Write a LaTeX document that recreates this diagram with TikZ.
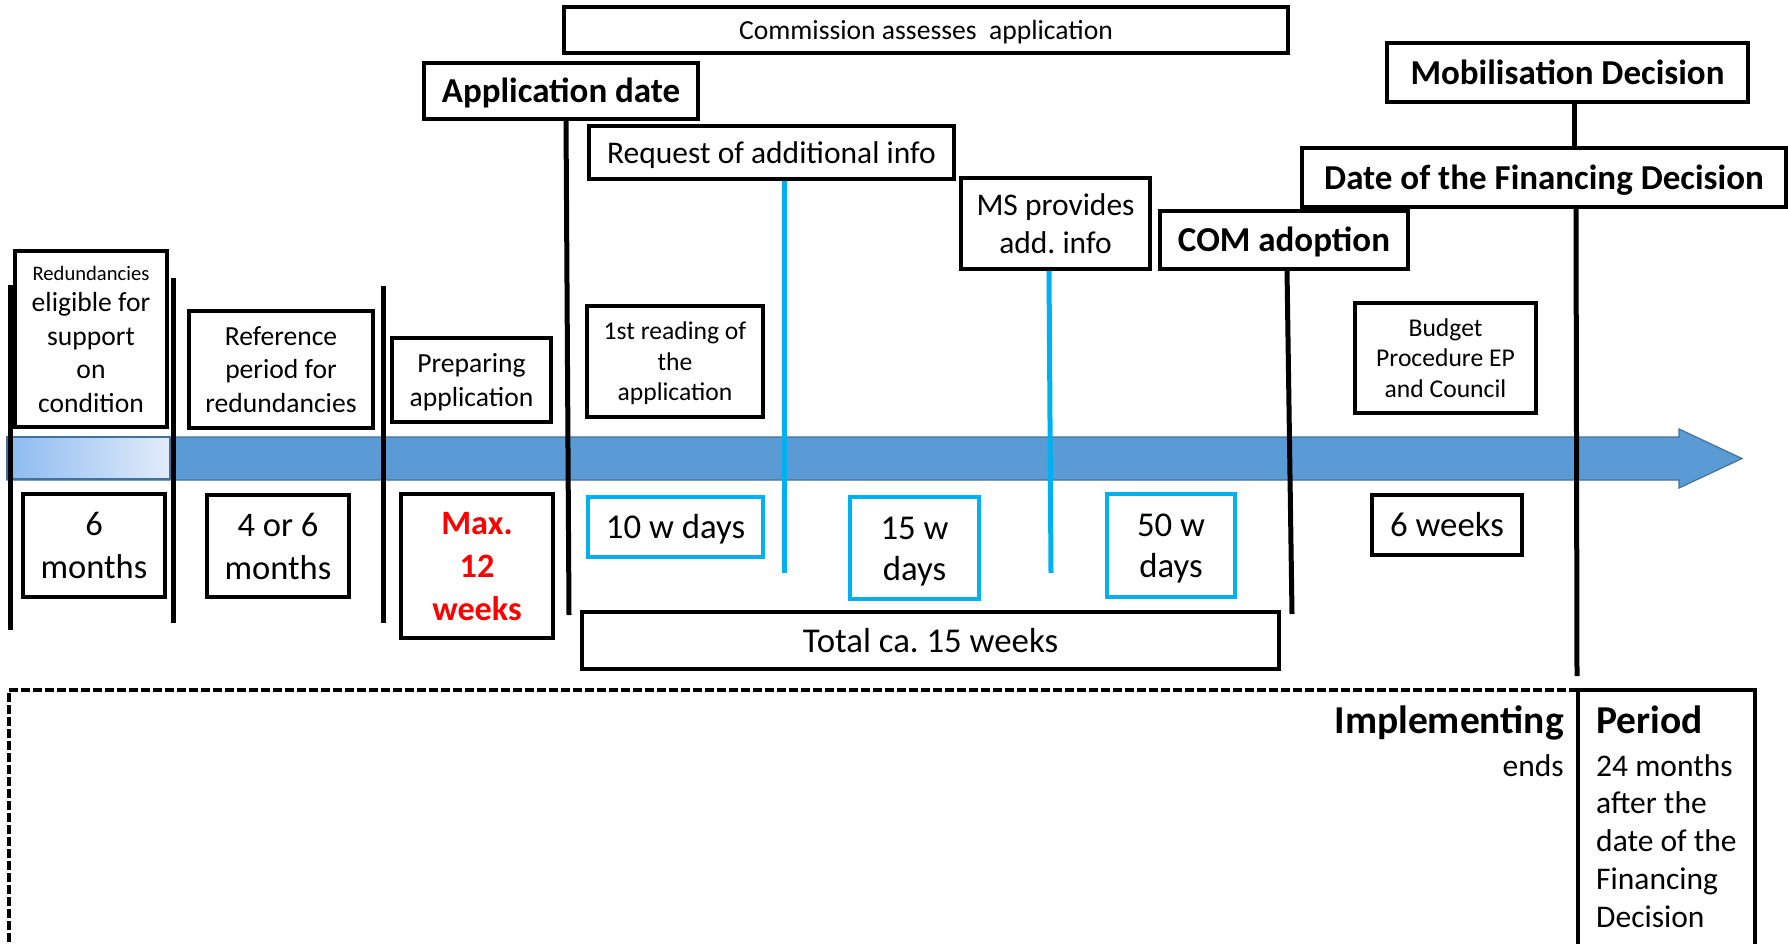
\documentclass[tikz,border=0pt]{standalone}
\usepackage{fontspec}
\setmainfont{Carlito}
\frenchspacing
\newcommand\setfs[2]{\fontsize{#1}{#2}\selectfont}
% fixed line box: font ascent above the first line, descent below the last
\newcommand\tp{\rule{0pt}{0.952em}}
\newcommand\bt{\rule[-0.269em]{0pt}{0pt}}
\definecolor{bandblue}{RGB}{91,155,213}
\definecolor{bandedge}{RGB}{65,113,156}
\definecolor{lineblue}{RGB}{0,176,240}
\definecolor{gradleft}{RGB}{140,186,240}
\definecolor{gradright}{RGB}{226,236,250}
\begin{document}
\begin{tikzpicture}[x=1pt,y=-1pt,
  box/.style={draw=black, line width=4pt, fill=white, inner sep=0pt, align=center},
  cbox/.style={box, draw=lineblue},
  vline/.style={line width=5pt, black},
  cline/.style={line width=5pt, lineblue},
  head/.style={font=\bfseries\setfs{35}{42}},
  big/.style={font=\setfs{34.8}{42}},
  mid/.style={font=\setfs{27.6}{33.5}},
  small/.style={font=\setfs{25.6}{30.5}},
  period/.style={inner sep=0pt, anchor=base west, font=\setfs{31.5}{38}}]
\useasboundingbox (0,0) rectangle (1788,943);
\clip (0,0) rectangle (1788,943);

% time line band with its arrow head
\path[fill=bandblue, draw=bandedge, line width=1.2pt]
  (7,437) -- (1679,437) -- (1679,429) -- (1742,458.5) -- (1679,488)
  -- (1679,480) -- (7,480) -- cycle;
\path[left color=gradleft, right color=gradright, draw=bandedge, line width=1.5pt]
  (7,437) rectangle (170,479);

% end points of the milestone lines
\coordinate (v1t) at (10,285);   \coordinate (v1b) at (10,630);
\coordinate (v2t) at (173,278);  \coordinate (v2b) at (173,623);
\coordinate (v3t) at (383,286);  \coordinate (v3b) at (383,623);
\coordinate (v4t) at (566,119);  \coordinate (v4b) at (569,615);
\coordinate (v5t) at (1287,269); \coordinate (v5b) at (1292,614);
\coordinate (v6t) at (1576,207); \coordinate (v6b) at (1577,676);
\coordinate (b1t) at (784,179);  \coordinate (b1b) at (784,573);
\coordinate (b2t) at (1049,269); \coordinate (b2b) at (1051,573);
\coordinate (m1) at (1574,102);  \coordinate (m2) at (1574,148);

\draw[vline] (v1t) -- (v1b);
\draw[vline] (v2t) -- (v2b);
\draw[vline] (v3t) -- (v3b);
\draw[vline] (v4t) -- (v4b);
\draw[vline] (v5t) -- (v5b);
\draw[vline] (v6t) -- (v6b);
\draw[vline] (m1) -- (m2);
\draw[cline] (b1t) -- (b1b);
\draw[cline] (b2t) -- (b2b);

% milestone boxes above the band
\node[box, mid, minimum width=724, minimum height=46] (comm) at (926,30) {\tp Commission assesses~ application\bt};
\node[box, head, minimum width=274, minimum height=56] (appdate) at (561,91) {\tp Application date\bt};
\node[box, font=\setfs{31.5}{38}, minimum width=365, minimum height=53] (req) at (771.5,152.5) {\tp Request of additional info\bt};
\node[box, font=\setfs{31.5}{38}, minimum width=189, minimum height=91] (ms) at (1055.5,223.5) {\tp MS provides\\add. info\bt};
\node[box, head, minimum width=248, minimum height=58] (com) at (1284,240) {\tp COM adoption\bt};
\node[box, head, minimum width=484, minimum height=59] (date) at (1544,177.5) {\tp Date of the Financing Decision\bt};
\node[box, head, minimum width=361, minimum height=59] (mob) at (1567.5,72.5) {\tp Mobilisation Decision\bt};
\node[box, small, minimum width=181, minimum height=110] (budget) at (1445.5,358) {\tp Budget\\Procedure EP\\and Council\bt};
\node[box, small, minimum width=176, minimum height=111] (read) at (675,361.5) {\tp 1st reading of\\the\\application\bt};
\node[box, mid, minimum width=152, minimum height=176] (redund) at (91,339)
  {{\setfs{20.6}{25}Redundancies}\\[-2pt]eligible for\\support\\on\\condition};
\node[box, mid, minimum width=184, minimum height=117] (ref) at (281,369.5) {\tp Reference\\period for\\redundancies\bt};
\node[box, mid, minimum width=159, minimum height=84] (prep) at (471.5,380) {\tp Preparing\\application\bt};

% duration boxes below the band
\node[box, font=\setfs{34.5}{43}, minimum width=142, minimum height=103] (six) at (94,545.5) {\tp 6\\months\bt};
\node[box, font=\setfs{34.5}{43}, minimum width=142, minimum height=102] (four) at (278,546) {\tp 4 or 6\\months\bt};
\node[box, font=\bfseries\setfs{34.2}{43}, text=red, minimum width=152, minimum height=144] (max) at (477,566) {\tp Max.\\12\\weeks\bt};
\node[cbox, big, minimum width=175, minimum height=60] (ten) at (675.5,527) {\tp 10 w days\bt};
\node[cbox, font=\setfs{34.8}{41}, minimum width=129, minimum height=102] (fifteen) at (914.5,548) {\tp 15 w\\days\bt};
\node[cbox, font=\setfs{34.8}{41}, minimum width=128, minimum height=103] (fifty) at (1171,545.5) {\tp 50 w\\days\bt};
\node[box, big, minimum width=697, minimum height=57] (total) at (930.5,640.5) {\tp Total ca. 15 weeks\bt};
\node[box, big, minimum width=150, minimum height=60] (sixw) at (1447,525) {\tp 6 weeks\bt};

% implementing period
\draw[line width=3.5pt, dash pattern=on 9pt off 3pt] (1578,690) -- (9,690) -- (9,960);
\draw[line width=4pt] (1578,960) -- (1578,690) -- (1755,690) -- (1755,960);
\node[inner sep=0pt, anchor=base east, font=\bfseries\setfs{39.5}{46}] (impl) at (1564,733) {Implementing};
\node[inner sep=0pt, anchor=base east, font=\setfs{31.5}{38}] (ends) at (1564,776) {ends};
\node[inner sep=0pt, anchor=base west, font=\bfseries\setfs{39.5}{46}] (per) at (1596,733) {Period};
\node[period] (p1) at (1596,776) {24 months};
\node[period] (p2) at (1596,813) {after the};
\node[period] (p3) at (1596,851) {date of the};
\node[period] (p4) at (1596,889) {Financing};
\node[period] (p5) at (1596,927) {Decision};
\end{tikzpicture}
\end{document}
